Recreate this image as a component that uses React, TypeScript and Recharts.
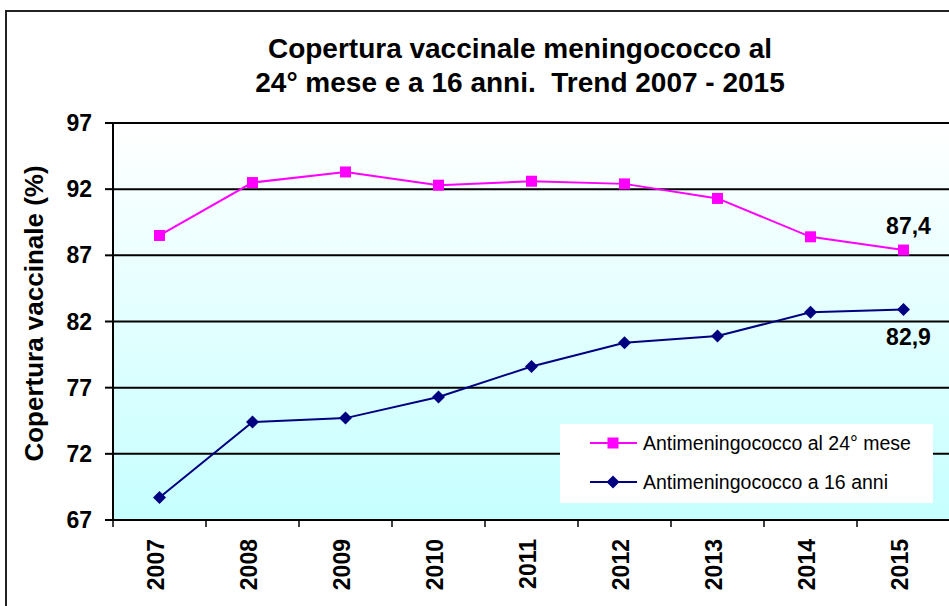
import { LineChart, Line, XAxis, YAxis, CartesianGrid, Legend, LabelList } from "recharts";

const years = ["2007", "2008", "2009", "2010", "2011", "2012", "2013", "2014", "2015"];
const cov24Months = [88.5, 92.5, 93.3, 92.3, 92.6, 92.4, 91.3, 88.4, 87.4];
const cov16Years = [68.7, 74.4, 74.7, 76.3, 78.6, 80.4, 80.9, 82.7, 82.9];
const yTicks = [67, 72, 77, 82, 87, 92, 97];
const seriesNames = ["Antimeningococco al 24° mese", "Antimeningococco a 16 anni"];

const data = years.map((year, i) => ({
  year,
  m24: cov24Months[i],
  a16: cov16Years[i],
}));

const PINK = "#ff00ff";
const NAVY = "#000080";
const FONT = '"Liberation Sans", Arial, sans-serif';
const X_TICK_SIZE = 7;
const X_TICK_MARGIN = 12;

const fmt = (v: number) => String(v).replace(".", ",");

function SquareDot(props: any) {
  const { cx, cy } = props;
  if (cx == null || cy == null) return null;
  return <rect x={cx - 5.5} y={cy - 5.5} width={11} height={11} fill={PINK} />;
}

function DiamondDot(props: any) {
  const { cx, cy } = props;
  if (cx == null || cy == null) return null;
  const r = 6.5;
  return (
    <polygon
      points={`${cx},${cy - r} ${cx + r},${cy} ${cx},${cy + r} ${cx - r},${cy}`}
      fill={NAVY}
    />
  );
}

function XTick(props: any) {
  const { x, y, payload } = props;
  const half = payload?.offset ?? 46.5;
  const axisY = y - X_TICK_SIZE - X_TICK_MARGIN;
  return (
    <g>
      <line x1={x - half} x2={x - half} y1={axisY} y2={axisY + X_TICK_SIZE} stroke="#000" strokeWidth={1.5} />
      <text
        x={x}
        y={y}
        transform={`rotate(-90, ${x}, ${y})`}
        textAnchor="end"
        dy={4}
        fontSize={23}
        fontWeight="bold"
        fill="#000"
      >
        {payload.value}
      </text>
    </g>
  );
}

function YLabel(props: any) {
  const vb = props.viewBox || { x: 0, y: 123, width: 113, height: 397 };
  const cx = vb.x + 43;
  const cy = vb.y + vb.height / 2 - 8;
  return (
    <text
      x={cx}
      y={cy}
      transform={`rotate(-90, ${cx}, ${cy})`}
      textAnchor="middle"
      fontSize={26}
      fontWeight="bold"
      fill="#000"
    >
      Copertura vaccinale (%)
    </text>
  );
}

function EndLabel(offsetY: number) {
  return (props: any) => {
    const { x, y, value, index } = props;
    if (index !== years.length - 1) return null;
    return (
      <text x={x + 5} y={y + offsetY} textAnchor="middle" fontSize={23} fontWeight="bold" fill="#000">
        {fmt(value)}
      </text>
    );
  };
}

function LegendBox(props: any) {
  const items = [...(props.payload || [])].sort(
    (a: any, b: any) => seriesNames.indexOf(a.value) - seriesNames.indexOf(b.value)
  );
  return (
    <div style={{ width: 373, height: 79, background: "#fff", position: "relative" }}>
      {items.map((item: any, i: number) => {
        const isPink = item.dataKey === "m24";
        const color = isPink ? PINK : NAVY;
        const cy = 19 + i * 39;
        return (
          <div key={i} style={{ position: "absolute", left: 0, top: cy - 15, height: 30, width: 373 }}>
            <svg width={80} height={30} style={{ position: "absolute", left: 0, top: 0 }}>
              <line x1={30} x2={77} y1={15} y2={15} stroke={color} strokeWidth={2} />
              {isPink ? (
                <rect x={47.5} y={9.5} width={11} height={11} fill={PINK} />
              ) : (
                <polygon points="53,8.5 59.5,15 53,21.5 46.5,15" fill={NAVY} />
              )}
            </svg>
            <span
              style={{
                position: "absolute",
                left: 83,
                top: 0,
                lineHeight: "30px",
                fontSize: 19.5,
                color: "#000",
                whiteSpace: "nowrap",
              }}
            >
              {item.value}
            </span>
          </div>
        );
      })}
    </div>
  );
}

export default function App() {
  return (
    <div
      style={{
        position: "absolute",
        left: 0,
        top: 0,
        width: 949,
        height: 606,
        overflow: "hidden",
        background: "#fff",
        fontFamily: FONT,
      }}
    >
      <div
        style={{
          position: "absolute",
          left: 5,
          top: 10,
          width: 1100,
          height: 800,
          border: "2px solid #222",
          boxSizing: "border-box",
        }}
      />
      <svg width={949} height={110} style={{ position: "absolute", left: 0, top: 0 }}>
        <text x={520} y={58} textAnchor="middle" fontSize={28} fontWeight="bold" fill="#000" fontFamily={FONT}>
          Copertura vaccinale meningococco al
        </text>
        <text x={520} y={92} textAnchor="middle" fontSize={28} fontWeight="bold" fill="#000" fontFamily={FONT} xmlSpace="preserve">
          24° mese e a 16 anni.  Trend 2007 - 2015
        </text>
      </svg>
      <div style={{ position: "absolute", left: 0, top: 0 }}>
        <LineChart
          width={960}
          height={606}
          data={data}
          margin={{ top: 123, right: 10, bottom: 0, left: 0 }}
        >
          <defs>
            <linearGradient id="plotBg" x1="0" y1="0" x2="0" y2="1">
              <stop offset="0%" stopColor="#ffffff" />
              <stop offset="100%" stopColor="#c6ffff" />
            </linearGradient>
          </defs>
          <CartesianGrid vertical={false} stroke="#000" strokeWidth={2} fill="url(#plotBg)" fillOpacity={1} />
          <XAxis
            dataKey="year"
            scale="band"
            height={86}
            stroke="#000"
            strokeWidth={2}
            tickLine={false}
            tickSize={X_TICK_SIZE}
            tickMargin={X_TICK_MARGIN}
            interval={0}
            tick={<XTick />}
          />
          <YAxis
            width={113}
            domain={[67, 97]}
            ticks={yTicks}
            allowDataOverflow
            stroke="#000"
            strokeWidth={2}
            tickSize={8}
            tickMargin={13}
            tick={{ fontSize: 23, fontWeight: "bold", fill: "#000" }}
            label={<YLabel />}
          />
          <Legend
            layout="vertical"
            align="center"
            verticalAlign="middle"
            wrapperStyle={{ position: "absolute", left: 560, top: 424, width: 373, height: 79 }}
            content={<LegendBox />}
          />
          <Line
            dataKey="m24"
            name={seriesNames[0]}
            type="linear"
            stroke={PINK}
            strokeWidth={2}
            dot={<SquareDot />}
            activeDot={false}
            isAnimationActive={false}
          >
            <LabelList dataKey="m24" content={EndLabel(-16)} />
          </Line>
          <Line
            dataKey="a16"
            name={seriesNames[1]}
            type="linear"
            stroke={NAVY}
            strokeWidth={2}
            dot={<DiamondDot />}
            activeDot={false}
            isAnimationActive={false}
          >
            <LabelList dataKey="a16" content={EndLabel(35)} />
          </Line>
        </LineChart>
      </div>
    </div>
  );
}
